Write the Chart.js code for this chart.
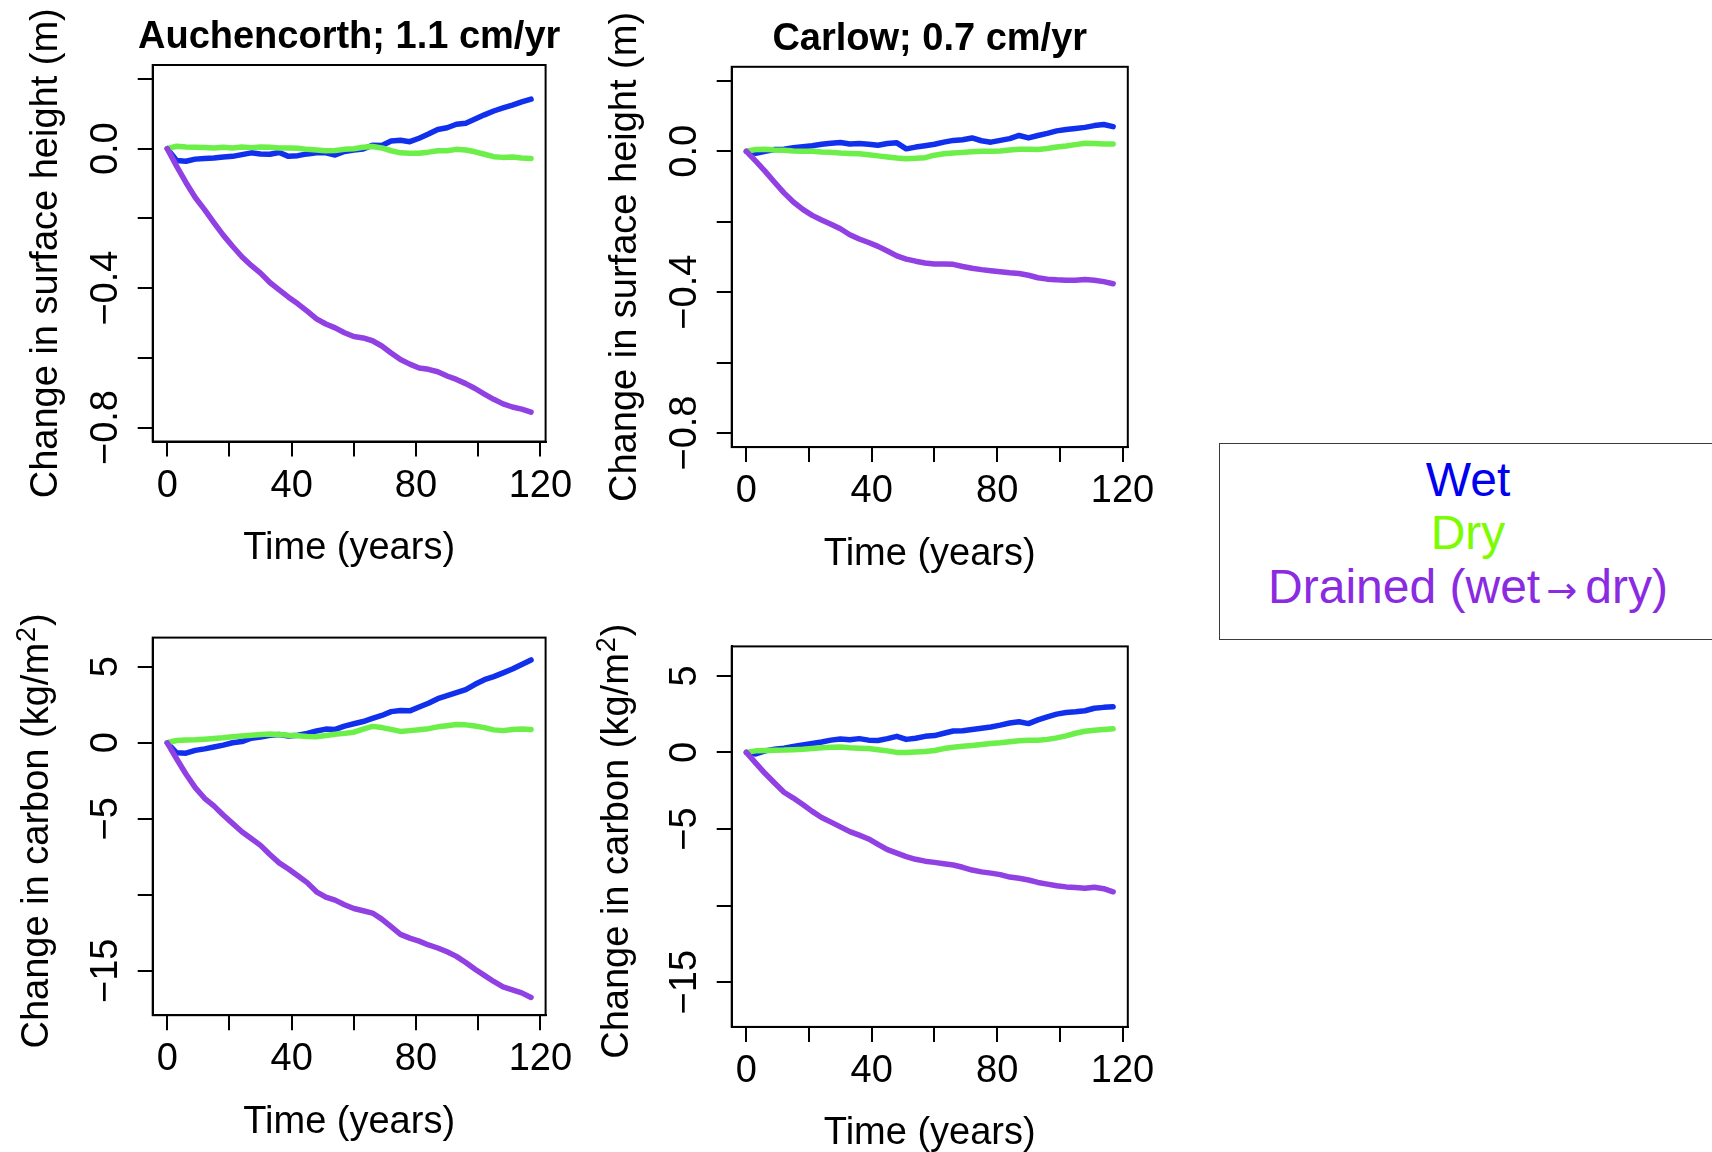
<!DOCTYPE html>
<html>
<head>
<meta charset="utf-8">
<title>Change in surface height and carbon</title>
<script src="https://cdn.jsdelivr.net/npm/chart.js@4.4.1/dist/chart.umd.min.js"></script>
<style>
html,body{margin:0;padding:0;background:#fff;}
body{width:1712px;height:1152px;position:relative;overflow:hidden;font-family:"Liberation Sans",Arial,Helvetica,sans-serif;}
canvas{position:absolute;}
#legend{position:absolute;left:1219px;top:443px;width:520px;height:197px;border:1.5px solid #3a3a3a;box-sizing:border-box;background:#fff;}
.leg{position:absolute;left:0;width:496px;text-align:center;font-size:48px;line-height:48px;white-space:nowrap;}
.arr{font-family:"DejaVu Sans",sans-serif;font-size:37px;margin:0 8px 0 6px;}
</style>
</head>
<body>
<canvas id="c1" width="580" height="578" style="left:0px;top:0px"></canvas>
<canvas id="c2" width="580" height="578" style="left:580px;top:0px"></canvas>
<canvas id="c3" width="580" height="574" style="left:0px;top:578px"></canvas>
<canvas id="c4" width="580" height="574" style="left:580px;top:578px"></canvas>
<div id="legend"></div>
<script>
// ---------- data ----------
const years = [0,3,6,9,12,15,18,21,24,27,30,33,36,39,42,45,48,51,54,57,60,63,66,69,72,75,78,81,84,87,90,93,96,99,102,105,108,111,114,117];

const auchHeightWet = [0,-0.034,-0.036,-0.030,-0.028,-0.027,-0.024,-0.022,-0.017,-0.012,-0.015,-0.016,-0.011,-0.022,-0.020,-0.015,-0.012,-0.012,-0.018,-0.008,-0.004,-0.001,0.010,0.009,0.022,0.024,0.020,0.030,0.042,0.055,0.060,0.070,0.073,0.085,0.097,0.108,0.117,0.125,0.134,0.142];
const auchHeightDry = [0,0.007,0.005,0.004,0.003,0.002,0.004,0.002,0.005,0.003,0.005,0.004,0.002,0.002,0.001,-0.002,-0.004,-0.006,-0.005,-0.002,0.000,0.004,0.006,0.002,-0.006,-0.012,-0.013,-0.013,-0.010,-0.006,-0.006,-0.002,-0.004,-0.009,-0.016,-0.023,-0.025,-0.024,-0.027,-0.028];
const auchHeightDrained = [0,-0.05,-0.097,-0.14,-0.175,-0.212,-0.248,-0.28,-0.31,-0.335,-0.357,-0.384,-0.405,-0.426,-0.445,-0.466,-0.488,-0.503,-0.514,-0.528,-0.539,-0.543,-0.551,-0.566,-0.586,-0.605,-0.618,-0.629,-0.633,-0.640,-0.652,-0.662,-0.674,-0.688,-0.704,-0.719,-0.732,-0.741,-0.747,-0.756];

const carlowHeightWet = [0,-0.006,0.000,0.005,0.006,0.010,0.013,0.016,0.020,0.023,0.025,0.021,0.022,0.020,0.017,0.022,0.024,0.007,0.012,0.016,0.020,0.026,0.031,0.033,0.038,0.030,0.026,0.031,0.036,0.045,0.038,0.045,0.051,0.058,0.062,0.065,0.068,0.073,0.076,0.070];
const carlowHeightDry = [0,0.005,0.006,0.004,0.003,0.001,0.000,0.000,-0.002,-0.003,-0.005,-0.006,-0.007,-0.010,-0.013,-0.016,-0.019,-0.021,-0.020,-0.018,-0.011,-0.007,-0.005,-0.003,-0.001,0.000,0.000,0.001,0.004,0.006,0.006,0.005,0.008,0.012,0.015,0.019,0.023,0.022,0.021,0.021];
const carlowHeightDrained = [0,-0.028,-0.057,-0.088,-0.118,-0.144,-0.165,-0.182,-0.195,-0.207,-0.220,-0.237,-0.249,-0.259,-0.270,-0.283,-0.297,-0.306,-0.312,-0.317,-0.320,-0.320,-0.321,-0.327,-0.332,-0.336,-0.339,-0.342,-0.345,-0.347,-0.352,-0.359,-0.363,-0.365,-0.366,-0.366,-0.364,-0.366,-0.370,-0.376];

const auchCarbonWet = [0,-0.66,-0.68,-0.5,-0.4,-0.28,-0.15,0.0,0.08,0.3,0.38,0.5,0.55,0.45,0.5,0.62,0.78,0.9,0.88,1.1,1.25,1.4,1.6,1.8,2.05,2.12,2.1,2.35,2.6,2.9,3.1,3.3,3.5,3.85,4.15,4.35,4.6,4.85,5.15,5.45];
const auchCarbonDry = [0,0.15,0.18,0.2,0.24,0.28,0.33,0.4,0.45,0.5,0.55,0.58,0.55,0.5,0.47,0.42,0.4,0.48,0.56,0.62,0.7,0.9,1.08,1.0,0.88,0.75,0.8,0.86,0.93,1.05,1.12,1.2,1.18,1.1,1.0,0.85,0.8,0.88,0.9,0.88];
const auchCarbonDrained = [0,-1.05,-2.05,-2.95,-3.65,-4.15,-4.75,-5.3,-5.85,-6.3,-6.75,-7.35,-7.9,-8.3,-8.75,-9.2,-9.8,-10.15,-10.35,-10.65,-10.9,-11.05,-11.2,-11.6,-12.1,-12.6,-12.85,-13.05,-13.3,-13.5,-13.75,-14.05,-14.45,-14.9,-15.3,-15.7,-16.05,-16.25,-16.45,-16.75];

const carlowCarbonWet = [0,-0.1,0.1,0.2,0.28,0.38,0.48,0.58,0.68,0.8,0.88,0.82,0.9,0.8,0.78,0.9,1.05,0.85,0.92,1.05,1.1,1.25,1.4,1.42,1.5,1.58,1.66,1.78,1.92,2.0,1.88,2.12,2.32,2.5,2.6,2.65,2.72,2.88,2.94,2.98];
const carlowCarbonDry = [0,0.1,0.12,0.14,0.15,0.18,0.2,0.25,0.3,0.34,0.35,0.3,0.27,0.25,0.18,0.1,0.0,0.0,0.03,0.06,0.12,0.25,0.33,0.4,0.45,0.52,0.58,0.63,0.7,0.76,0.8,0.8,0.85,0.95,1.08,1.25,1.38,1.45,1.5,1.55];
const carlowCarbonDrained = [0,-0.7,-1.38,-2.0,-2.6,-2.98,-3.4,-3.85,-4.25,-4.55,-4.86,-5.17,-5.4,-5.65,-6.0,-6.35,-6.58,-6.8,-6.98,-7.1,-7.18,-7.27,-7.35,-7.5,-7.68,-7.8,-7.88,-7.98,-8.14,-8.22,-8.33,-8.49,-8.6,-8.7,-8.78,-8.82,-8.87,-8.8,-8.9,-9.1];

// ---------- ticks and labels ----------
const xTicks = [0,20,40,60,80,100,120];
const xTickLabels = ['0','','40','','80','','120'];
const heightTicks = [0.2,0,-0.2,-0.4,-0.6,-0.8];
const heightTickLabels = ['','0.0','','\u22120.4','','\u22120.8'];
const carbonTicks = [5,0,-5,-10,-15];
const carbonTickLabels = ['5','0','\u22125','','\u221215'];
const xTitle = 'Time (years)';
const panelTitles = ['Auchencorth; 1.1 cm/yr','Carlow; 0.7 cm/yr'];
const heightTitle = 'Change in surface height (m)';
const carbonTitle = ['Change in carbon (kg/m','2',')'];
const legendLabels = ['Wet','Dry','Drained (wet\u2192dry)'];
const legendColors = ['#0000f0','#7cfc00','#8a2be2'];
const lineColors = ['#1030ee','#6cef48','#9140e3'];

// ---------- style ----------
const FONT = '"Liberation Sans", Arial, Helvetica, sans-serif';
const X_RANGE = [-4.68, 121.68];
const H_RANGE = [-0.84, 0.24];
const C_RANGE = [-17.92, 6.92];

function datasets(wet, dry, drained){
  const pts = arr => years.map((x,i)=>({x:x, y:arr[i]}));
  const base = {borderWidth:5.5, pointRadius:0, pointHoverRadius:0, fill:false, tension:0,
                borderJoinStyle:'round', borderCapStyle:'round'};
  return [
    Object.assign({label:legendLabels[0], data:pts(wet), borderColor:lineColors[0], order:2}, base),
    Object.assign({label:legendLabels[1], data:pts(dry), borderColor:lineColors[1], order:1}, base),
    Object.assign({label:legendLabels[2], data:pts(drained), borderColor:lineColors[2], order:0}, base)
  ];
}

function panelPlugin(p){
  return {
    id:'rPanel',
    afterDraw(chart){
      const ctx = chart.ctx, a = chart.chartArea, xs = chart.scales.x, ys = chart.scales.y;
      ctx.save();
      ctx.strokeStyle = '#000'; ctx.lineWidth = 2;
      ctx.strokeRect(a.left, a.top, a.right - a.left, a.bottom - a.top);
      ctx.fillStyle = '#000';
      ctx.textBaseline = 'alphabetic';
      ctx.textAlign = 'center';
      ctx.font = '38px ' + FONT;
      xTicks.forEach((v,i)=>{
        const t = xTickLabels[i];
        if (t) ctx.fillText(t, xs.getPixelForValue(v), a.bottom + 55);
      });
      p.yTicks.forEach((v,i)=>{
        const t = p.yTickLabels[i];
        if (!t) return;
        ctx.save();
        ctx.translate(a.left - 35.5, ys.getPixelForValue(v));
        ctx.rotate(-Math.PI/2);
        ctx.fillText(t, 0, 0);
        ctx.restore();
      });
      ctx.fillText(xTitle, (a.left + a.right)/2, a.bottom + 117.5);
      // y axis title
      ctx.save();
      ctx.translate(a.left - p.yTitleGap, (a.top + a.bottom)/2 + p.yTitleShift);
      ctx.rotate(-Math.PI/2);
      if (Array.isArray(p.yTitle)) {
        ctx.font = '38px ' + FONT;
        const w1 = ctx.measureText(p.yTitle[0]).width;
        const w3 = ctx.measureText(p.yTitle[2]).width;
        ctx.font = '27px ' + FONT;
        const w2 = ctx.measureText(p.yTitle[1]).width;
        const x0 = -(w1 + w2 + w3 + 2)/2;
        ctx.textAlign = 'left';
        ctx.font = '38px ' + FONT;
        ctx.fillText(p.yTitle[0], x0, 0);
        ctx.font = '27px ' + FONT;
        ctx.fillText(p.yTitle[1], x0 + w1 + 1, -13);
        ctx.font = '38px ' + FONT;
        ctx.fillText(p.yTitle[2], x0 + w1 + w2 + 2, 0);
      } else {
        ctx.fillText(p.yTitle, 0, 0);
      }
      ctx.restore();
      if (p.title) {
        ctx.textAlign = 'center';
        ctx.font = 'bold 38px ' + FONT;
        ctx.fillText(p.title, (a.left + a.right)/2, a.top - 17);
      }
      ctx.restore();
    }
  };
}

function makeChart(id, box, p, ds){
  const cv = document.getElementById(id);
  const W = cv.width, H = cv.height;
  const axisStyle = {
    grid:{display:true, drawOnChartArea:false, drawTicks:true, tickLength:15, color:'#000', lineWidth:2},
    border:{display:true, color:'#000', width:2},
    ticks:{display:false}
  };
  return new Chart(cv, {
    type:'line',
    data:{datasets:ds},
    options:{
      responsive:false, animation:false, devicePixelRatio:1,
      layout:{padding:{left:0, top:box.top, right:W - box.right, bottom:0}},
      plugins:{legend:{display:false}, tooltip:{enabled:false}, title:{display:false}},
      scales:{
        x:Object.assign({type:'linear', min:X_RANGE[0], max:X_RANGE[1],
          afterBuildTicks:s=>{ s.ticks = xTicks.map(v=>({value:v})); },
          afterFit:s=>{ s.height = H - box.bottom; }}, axisStyle),
        y:Object.assign({type:'linear', min:p.yRange[0], max:p.yRange[1],
          afterBuildTicks:s=>{ s.ticks = p.yTicks.map(v=>({value:v})); },
          afterFit:s=>{ s.width = box.left; }}, axisStyle)
      }
    },
    plugins:[panelPlugin(p)]
  });
}

makeChart('c1', {left:152.7, right:545.6, top:65, bottom:441.5},
  {yRange:H_RANGE, yTicks:heightTicks, yTickLabels:heightTickLabels, yTitle:heightTitle, yTitleGap:96, yTitleShift:0, title:panelTitles[0]},
  datasets(auchHeightWet, auchHeightDry, auchHeightDrained));
makeChart('c2', {left:151.7, right:547.8, top:66.8, bottom:447.1},
  {yRange:H_RANGE, yTicks:heightTicks, yTickLabels:heightTickLabels, yTitle:heightTitle, yTitleGap:96, yTitleShift:0, title:panelTitles[1]},
  datasets(carlowHeightWet, carlowHeightDry, carlowHeightDrained));
makeChart('c3', {left:152.7, right:545.6, top:59.6, bottom:437.2},
  {yRange:C_RANGE, yTicks:carbonTicks, yTickLabels:carbonTickLabels, yTitle:carbonTitle, yTitleGap:105, yTitleShift:4.5, title:null},
  datasets(auchCarbonWet, auchCarbonDry, auchCarbonDrained));
makeChart('c4', {left:151.7, right:547.8, top:68.4, bottom:448.9},
  {yRange:C_RANGE, yTicks:carbonTicks, yTickLabels:carbonTickLabels, yTitle:carbonTitle, yTitleGap:104, yTitleShift:4.5, title:null},
  datasets(carlowCarbonWet, carlowCarbonDry, carlowCarbonDrained));

// ---------- legend ----------
const legend = document.getElementById('legend');
const legTops = [11.6, 64.9, 118.9];
legendLabels.forEach((lab,i)=>{
  const d = document.createElement('div');
  d.className = 'leg';
  d.style.top = legTops[i] + 'px';
  d.style.color = legendColors[i];
  const parts = lab.split('\u2192');
  d.appendChild(document.createTextNode(parts[0]));
  if (parts.length > 1) {
    const s = document.createElement('span');
    s.className = 'arr';
    s.textContent = '\u2192';
    d.appendChild(s);
    d.appendChild(document.createTextNode(parts[1]));
  }
  legend.appendChild(d);
});
</script>
</body>
</html>
